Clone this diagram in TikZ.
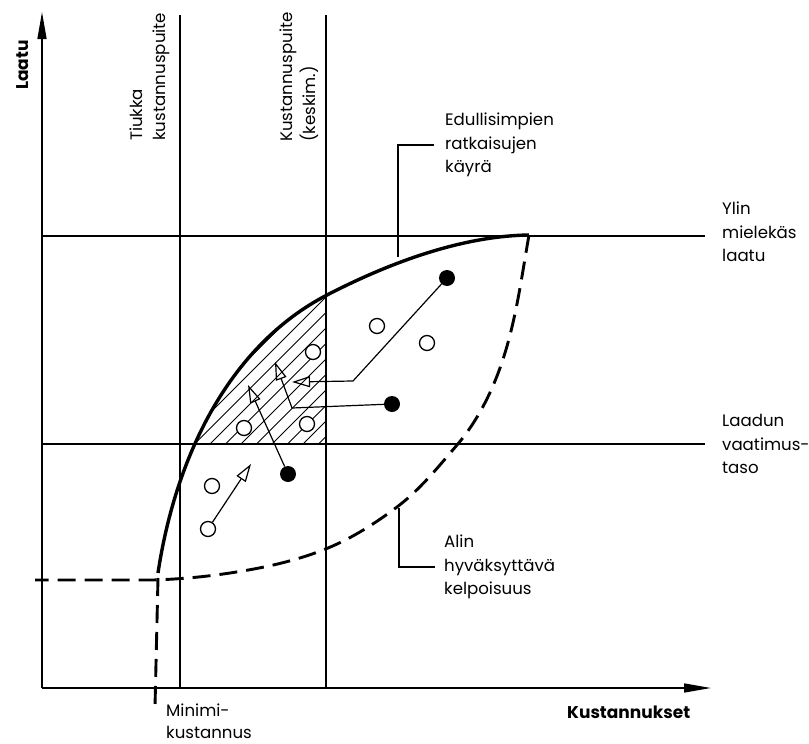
\documentclass[tikz,border=0pt]{standalone}
\usepackage{fontspec}
\setmainfont{Poppins}
\usetikzlibrary{arrows.meta}

\begin{document}
\begin{tikzpicture}[x=1pt,y=-1pt,
  thinline/.style={line width=1.2pt},
  axis/.style={line width=1.5pt,-{Triangle[length=27pt,width=9pt]}},
  bestcurve/.style={line width=3.4pt,line join=round},
  mincurve/.style={line width=2.9pt,dash pattern=on 18pt off 9pt},
  hatchline/.style={line width=0.9pt},
  opendot/.style={circle,draw,line width=1.3pt,fill=white,minimum size=15pt,inner sep=0pt},
  fulldot/.style={circle,fill=black,minimum size=16pt,inner sep=0pt},
  move/.style={line width=1.2pt,-{Triangle[open,length=18pt,width=11pt,line width=1.2pt]}},
  lbl/.style={font=\fontsize{16.6}{23.5}\selectfont,align=left,inner sep=0pt},
  axlbl/.style={font=\fontsize{17}{20}\selectfont\bfseries,inner sep=0pt}]

\useasboundingbox (0,0) rectangle (809,744);

% curve of the most economical solutions, as a reusable path
\def\bestpath{(158,573) .. controls (175,460) and (227,347) .. (327,295)
  .. controls (387,264) and (460,236) .. (529,235)}

% hatched zone between the best-solution curve, the quality requirement and the average budget
\begin{scope}
  \clip (180,236) rectangle (326,444);
  \clip \bestpath -- (529,620) -- (158,620) -- cycle;
  \foreach \c in {592,607.5,...,790}
    \draw[hatchline] ({\c-450},450) -- ({\c-220},220);
\end{scope}

% axes
\coordinate (o) at (42,688);
\coordinate (ytip) at (42,12);
\coordinate (xtip) at (711,688);
\draw[axis] (o) -- (ytip);
\draw[axis] (o) -- (xtip);

% budget limits and quality levels
\coordinate (tt) at (180,15);  \coordinate (tb) at (180,688);
\coordinate (kt) at (326,15);  \coordinate (kb) at (326,688);
\coordinate (yl) at (42,236);  \coordinate (yr) at (705,236);
\coordinate (ll) at (42,444);  \coordinate (lr) at (705,444);
\draw[thinline] (tt) -- (tb);
\draw[thinline] (kt) -- (kb);
\draw[thinline] (yl) -- (yr);
\draw[thinline] (ll) -- (lr);

\draw[bestcurve] \bestpath;

% lowest acceptable fitness
\draw[mincurve] (529,235)
  .. controls (523,269) and (518.5,302) .. (510,335)
  .. controls (500,374.5) and (483.5,414) .. (457,445)
  .. controls (438.3,466.9) and (420,489.7) .. (397,507)
  .. controls (375.6,523.1) and (352.7,537.8) .. (328,548)
  .. controls (297,560.8) and (263.4,568) .. (230,573)
  .. controls (204.5,576.9) and (178.8,579.2) .. (153,580)
  -- (35,580);
\coordinate (mintop) at (158,578);
\coordinate (minbot) at (155,707);
\draw[mincurve] (mintop) -- (minbot);

% solutions
\node[opendot] (o1) at (313,352) {};
\node[opendot] (o2) at (377,326) {};
\node[opendot] (o3) at (427,343) {};
\node[opendot] (o4) at (244,428) {};
\node[opendot] (o5) at (307,424) {};
\node[opendot] (o6) at (212,486) {};
\node[opendot] (o7) at (208,529) {};
\node[fulldot] (f1) at (447,278) {};
\node[fulldot] (f2) at (392,404) {};
\node[fulldot] (f3) at (288,474) {};

% improvement moves
\coordinate (t1) at (251,464);
\coordinate (t2) at (248,385);
\coordinate (k3) at (292,408);
\coordinate (t3) at (275,362);
\coordinate (k4) at (353,381);
\coordinate (t4) at (292,382);
\draw[move] (o7) -- (t1);
\draw[move] (f3) -- (t2);
\draw[move] (f2) -- (k3) -- (t3);
\draw[move] (f1) -- (k4) -- (t4);

% labels
\node[axlbl,rotate=90] (laatu) at (23,65) {Laatu};
\node[axlbl,anchor=west] (kust) at (567,712) {Kustannukset};
\node[lbl,rotate=90,anchor=west] (tiukka) at (150,141) {Tiukka\\kustannuspuite};
\node[lbl,rotate=90,anchor=west] (keskim) at (299,142) {Kustannuspuite\\(keskim.)};
\node[lbl,anchor=west] (edu) at (445,145) {Edullisimpien\\ratkaisujen\\käyrä};
\node[lbl,anchor=west] (ylin) at (722,232) {Ylin\\mielekäs\\laatu};
\node[lbl,anchor=west] (laadun) at (722,444) {Laadun\\vaatimus-\\taso};
\node[lbl,anchor=west] (alin) at (444,567) {Alin\\hyväksyttävä\\kelpoisuus};
\node[lbl,anchor=west,font=\fontsize{16.6}{22}\selectfont] (minimi) at (166,721) {Minimi-\\kustannus};

% leaders
\coordinate (edupt) at (398,257);
\coordinate (alinpt) at (399,508);
\draw[thinline] ([xshift=-11pt]edu.west) -| (edupt);
\draw[thinline] ([xshift=-9pt]alin.west) -| (alinpt);
\end{tikzpicture}
\end{document}
